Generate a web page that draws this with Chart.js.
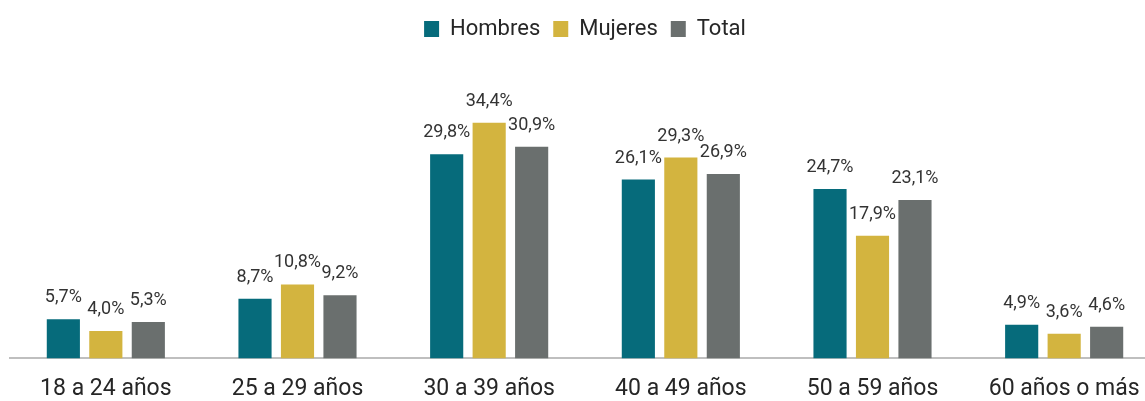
<!DOCTYPE html>
<html>
<head>
<meta charset="utf-8">
<script src="https://cdn.jsdelivr.net/npm/chart.js@4.4.1/dist/chart.umd.min.js"></script>
<style>
    body { margin: 0; background: #fff; }
    .wrap { width: 1145px; height: 401px; overflow: hidden; position: relative; }
    #chart { position: absolute; left: 0; top: 0; }
</style>
</head>
<body>
<div class="wrap">
    <canvas id="chart" width="1160" height="401"></canvas>
</div>
<script>
// Data
const categories = ['18 a 24 años', '25 a 29 años', '30 a 39 años', '40 a 49 años', '50 a 59 años', '60 años o más'];
const hombres = [5.7, 8.7, 29.8, 26.1, 24.7, 4.9];
const mujeres = [4.0, 10.8, 34.4, 29.3, 17.9, 3.6];
const total = [5.3, 9.2, 30.9, 26.9, 23.1, 4.6];

const fontFamily = 'Roboto, "Noto Sans", sans-serif';

// Value labels above bars (comma decimal)
const barLabels = {
    id: 'barLabels',
    afterDatasetsDraw(chart) {
        const ctx = chart.ctx;
        ctx.save();
        ctx.font = '18px ' + fontFamily;
        ctx.fillStyle = '#333333';
        ctx.textAlign = 'center';
        ctx.textBaseline = 'alphabetic';
        chart.data.datasets.forEach(function(ds, i) {
            const meta = chart.getDatasetMeta(i);
            meta.data.forEach(function(bar, j) {
                const txt = ds.data[j].toFixed(1).replace('.', ',') + '%';
                ctx.fillText(txt, bar.x, bar.y - 17);
            });
        });
        ctx.restore();
    }
};

new Chart(document.getElementById('chart'), {
    type: 'bar',
    data: {
        labels: categories,
        datasets: [
            { label: 'Hombres', data: hombres, backgroundColor: '#066b7b' },
            { label: 'Mujeres', data: mujeres, backgroundColor: '#d3b43f' },
            { label: 'Total', data: total, backgroundColor: '#6a6f6e' }
        ]
    },
    options: {
        responsive: false,
        animation: false,
        categoryPercentage: 0.665,
        barPercentage: 0.78,
        layout: {
            padding: { left: 10, top: 5, right: 0, bottom: -19 }
        },
        plugins: {
            legend: {
                position: 'top',
                labels: {
                    boxWidth: 15,
                    boxHeight: 16,
                    padding: 13,
                    color: '#262626',
                    font: { family: fontFamily, size: 22 }
                }
            },
            tooltip: { enabled: false }
        },
        scales: {
            x: {
                grid: { display: false, drawTicks: false },
                border: { color: '#bfbfbf', width: 2 },
                ticks: {
                    color: '#262626',
                    padding: 17,
                    font: { family: fontFamily, size: 23 }
                }
            },
            y: {
                display: false,
                min: 0,
                max: 45
            }
        }
    },
    plugins: [barLabels]
});
</script>
</body>
</html>
